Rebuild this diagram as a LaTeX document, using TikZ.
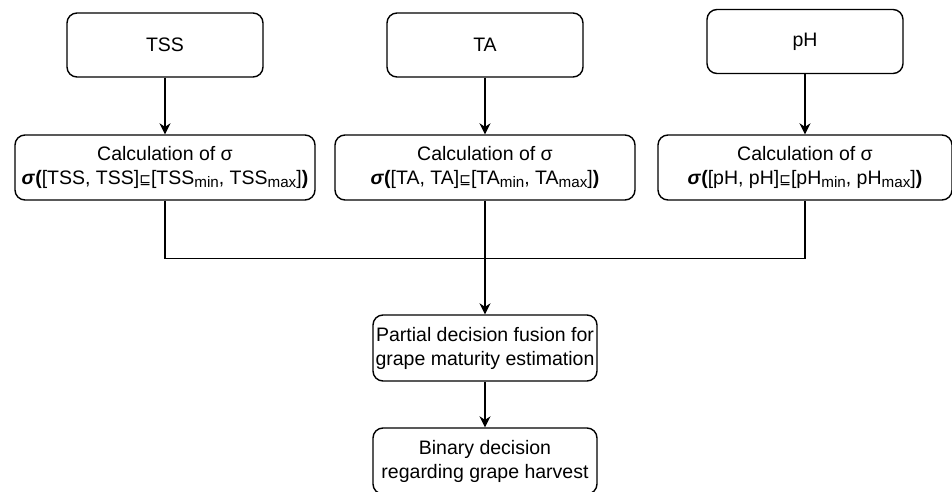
\documentclass[tikz,border=0pt]{standalone}
\usepackage{fontspec}
\setmainfont{Liberation Sans}
\newfontfamily\symfont{DejaVu Sans}
\usetikzlibrary{arrows.meta,positioning}

\newcommand{\sqsub}{{\symfont\fontsize{7}{8}\selectfont ⊑}}
\newcommand{\sgm}{\textbf{\textit{σ}(}}
\newcommand{\lowix}[1]{\raisebox{-0.3ex}{\fontsize{7.6}{8}\selectfont #1}}

\tikzset{
  box/.style={draw, rounded corners=5pt, line width=0.7pt, align=center,
    inner sep=1pt, font=\fontsize{9.75}{12}\selectfont},
  inbox/.style={box, minimum width=98pt, minimum height=32pt},
  calcbox/.style={box, minimum width=150pt, minimum height=32.5pt},
  fusebox/.style={box, minimum width=112pt, minimum height=33pt},
  link/.style={line width=0.7pt, -{Stealth[length=5.5pt,width=5.5pt]}}
}

\begin{document}
\begin{tikzpicture}[x=0.5pt, y=-0.5pt, node distance=61.25pt, auto]
            \useasboundingbox (0,0) rectangle (952,492);

            \node (tss) [inbox] at (165,45) {TSS};
            \node (ta) [inbox] at (485,45) {TA};
            \node (ph) [inbox] at (805,41.5) {pH};

            \node (calctss) [calcbox, below of=tss] {Calculation of σ\\ \sgm[TSS, TSS]\sqsub[TSS\lowix{min}, TSS\lowix{max}]\textbf{)}};
            \node (calcta) [calcbox, below of=ta] {Calculation of σ\\ \sgm[TA, TA]\sqsub[TA\lowix{min}, TA\lowix{max}]\textbf{)}};
            \node (calcph) [calcbox, minimum width=147pt, below of=ph, node distance=63pt] {Calculation of σ\\ \sgm[pH, pH]\sqsub[pH\lowix{min}, pH\lowix{max}]\textbf{)}};

            \node (fusion) [fusebox] at (485,348) {Partial decision fusion for\\ grape maturity estimation};
            \node (harvest) [fusebox, below of=fusion, node distance=56.5pt] {Binary decision\\ regarding grape harvest};

            \draw[link] (tss) -- (calctss);
            \draw[link] (ta) -- (calcta);
            \draw[link] (ph) -- (calcph);

            \draw[line width=0.7pt] (calctss.south) -- ++(0,58) -| (calcph.south);
            \draw[link] (calcta) -- (fusion);
            \draw[link] (fusion) -- (harvest);
        \end{tikzpicture}
\end{document}
